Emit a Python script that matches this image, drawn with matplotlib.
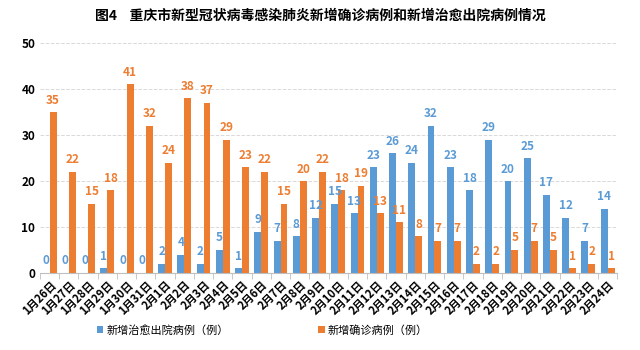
import matplotlib.pyplot as plt
import numpy as np

plt.rcParams['font.family'] = ['Noto Sans CJK SC', 'DejaVu Sans']

dates = ["1月26日", "1月27日", "1月28日", "1月29日", "1月30日", "1月31日",
         "2月1日", "2月2日", "2月3日", "2月4日", "2月5日", "2月6日", "2月7日",
         "2月8日", "2月9日", "2月10日", "2月11日", "2月12日", "2月13日",
         "2月14日", "2月15日", "2月16日", "2月17日", "2月18日", "2月19日",
         "2月20日", "2月21日", "2月22日", "2月23日", "2月24日"]
discharged = [0, 0, 0, 1, 0, 0, 2, 4, 2, 5, 1, 9, 7, 8, 12, 15, 13, 23, 26,
              24, 32, 23, 18, 29, 20, 25, 17, 12, 7, 14]
confirmed = [35, 22, 15, 18, 41, 32, 24, 38, 37, 29, 23, 22, 15, 20, 22, 18,
             19, 13, 11, 8, 7, 7, 2, 2, 5, 7, 5, 1, 2, 1]

blue = "#5b9bd5"
orange = "#ed7d31"

fig = plt.figure(figsize=(6.4, 3.5), dpi=100)
ax = fig.add_axes([0.0625, 0.22, 0.902, 0.657])

x = np.arange(len(dates))
w = 0.36
b1 = ax.bar(x - w / 2, discharged, w, color=blue, label="新增治愈出院病例（例）")
b2 = ax.bar(x + w / 2, confirmed, w, color=orange, label="新增确诊病例（例）")

for xi, v in zip(x, discharged):
    ax.text(xi - w / 2, v + 1.2, str(v), ha="center", va="bottom",
            color=blue, fontsize=8.5, fontweight="bold")
for xi, v in zip(x, confirmed):
    ax.text(xi + w / 2, v + 1.2, str(v), ha="center", va="bottom",
            color=orange, fontsize=8.5, fontweight="bold")

ax.set_ylim(0, 50)
ax.set_xlim(-0.5, len(dates) - 0.5)
ax.set_yticks(range(0, 51, 10))
ax.tick_params(axis="y", length=0, labelsize=8.5)
for lbl in ax.get_yticklabels():
    lbl.set_fontweight("bold")
ax.yaxis.grid(True, color="#d9d9d9", linestyle="--", linewidth=0.7)
ax.set_axisbelow(True)

ax.set_xticks(x)
ax.set_xticklabels(dates, rotation=45, ha="right", rotation_mode="anchor",
                   fontsize=8, fontweight="bold")
ax.tick_params(axis="x", length=0, pad=4)
ax.set_xticks(np.arange(-0.5, len(dates), 1), minor=True)
ax.tick_params(axis="x", which="minor", length=4, color="#bfbfbf")

for s in ["top", "left", "right"]:
    ax.spines[s].set_visible(False)
ax.spines["bottom"].set_color("#bfbfbf")

fig.text(0.5, 0.955, "图4    重庆市新型冠状病毒感染肺炎新增确诊病例和新增治愈出院病例情况",
         ha="center", va="center", fontsize=10, fontweight="bold")

fig.legend(handles=[b1, b2], loc="center", bbox_to_anchor=(0.41, 0.057),
           ncol=2, frameon=False, fontsize=8, handlelength=0.6,
           handleheight=0.6, columnspacing=8, handletextpad=0.3)

fig.savefig("out.png", dpi=100)
